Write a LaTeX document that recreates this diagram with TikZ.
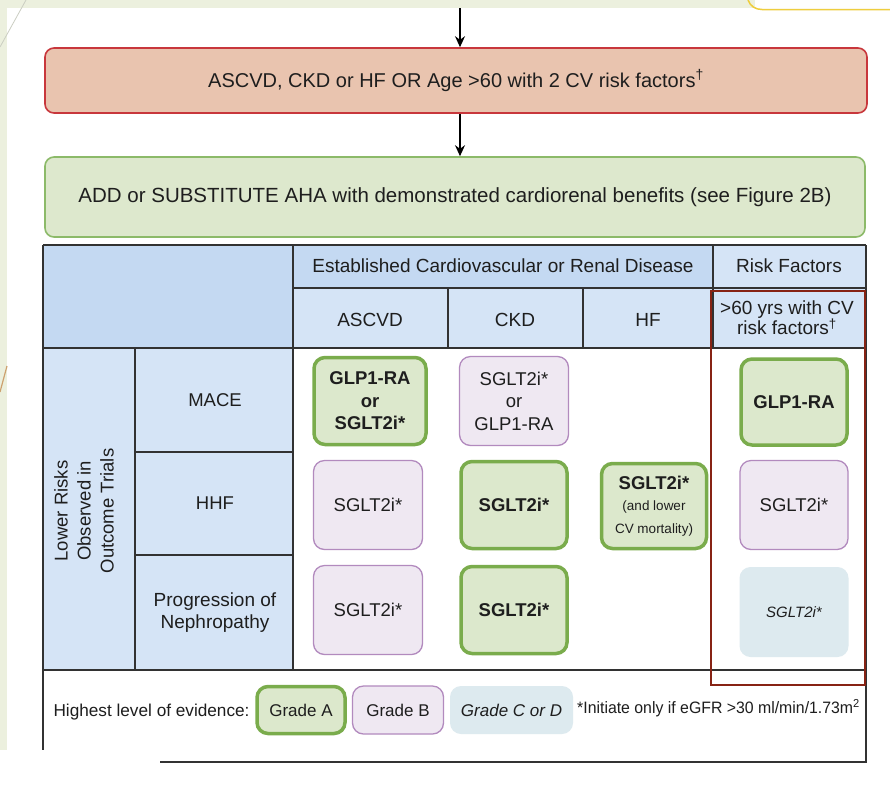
\documentclass[tikz,border=0pt]{standalone}
\usepackage{fontspec}
\setmainfont{Liberation Sans}
\usetikzlibrary{arrows.meta}
\definecolor{bgg}{RGB}{236,240,222}
\definecolor{redfill}{RGB}{233,196,175}
\definecolor{redline}{RGB}{200,55,60}
\definecolor{grnfill}{RGB}{221,232,205}
\definecolor{grnline}{RGB}{140,186,105}
\definecolor{afill}{RGB}{220,232,204}
\definecolor{aline}{RGB}{122,172,76}
\definecolor{bfill}{RGB}{239,232,242}
\definecolor{bline}{RGB}{178,138,190}
\definecolor{cfill}{RGB}{221,234,239}
\definecolor{hdark}{RGB}{196,217,242}
\definecolor{hlight}{RGB}{213,228,246}
\definecolor{tline}{RGB}{50,50,50}
\definecolor{frame}{RGB}{135,35,20}
\definecolor{yel}{RGB}{238,205,60}
\definecolor{txt}{RGB}{30,30,30}
\newcommand{\smallnote}{\fontsize{13.5}{19}\selectfont\mdseries}
\tikzset{
  topbox/.style={draw, rounded corners=9pt, line width=1.6pt, font=\fontsize{20.5}{24}\selectfont, text=txt},
  gradeA/.style={draw=aline, fill=afill, line width=3.5pt, rounded corners=11pt, align=center, font=\fontsize{18.5}{22.5}\selectfont\bfseries, text=txt},
  gradeB/.style={draw=bline, fill=bfill, line width=1.3pt, rounded corners=11pt, align=center, font=\fontsize{18.5}{22.5}\selectfont, text=txt},
  gradeC/.style={fill=cfill, rounded corners=11pt, align=center, font=\fontsize{15}{18}\selectfont\itshape, text=txt},
  lbl/.style={align=center, font=\fontsize{19}{22}\selectfont, text=txt},
  tl/.style={draw=tline, line width=1.3pt},
  arr/.style={-{Stealth[length=11pt,width=10pt]}, line width=1.5pt, draw=black}
}
\begin{document}
\begin{tikzpicture}[x=1pt,y=-1pt]
\useasboundingbox (0,0) rectangle (890,785);
% background
\fill[bgg] (0,0) rectangle (890,785);
\fill[white] (7,8) rectangle (890,785);
\fill[white] (0,750) rectangle (890,785);
\fill[white!95!bgg] (755,0) rectangle (890,9);
\draw[yel, line width=1.5pt] (748,0) to[out=-70,in=180] (762,9.5) -- (890,9.5);
\draw[bgg!70!gray, line width=0.8pt] (26,0) -- (0,47);
\draw[bgg!30!brown, line width=1.2pt] (7,366) -- (0,392);

% top flow
\coordinate (top) at (460,8);
\node[topbox, draw=redline, fill=redfill, minimum width=822pt, minimum height=65pt, font=\fontsize{20}{24}\selectfont] (risk) at (456,80.5)
  {ASCVD, CKD or HF OR Age >60 with 2 CV risk factors\textsuperscript{†}};
\node[topbox, draw=grnline, fill=grnfill, minimum width=820pt, minimum height=80pt] (add) at (455,197)
  {ADD or SUBSTITUTE AHA with demonstrated cardiorenal benefits (see Figure 2B)};
\draw[arr] (top) -- (risk.north -| top);
\draw[arr] (risk.south -| top) -- (add.north -| top);

% table fills
\fill[hdark] (43,245) rectangle (293,348);
\fill[hdark] (293,245) rectangle (713,288);
\fill[hlight] (713,245) rectangle (866,288);
\fill[hlight] (293,288) rectangle (866,348);
\fill[hlight] (43,348) rectangle (293,670);
% table lines
\draw[tl] (43,245) -- (866,245);
\draw[tl] (43,245) -- (43,750);
\draw[tl] (866,245) -- (866,762) -- (160,762);
\draw[tl] (43,670) -- (866,670);
\draw[tl] (43,348) -- (866,348);
\draw[tl] (293,288) -- (866,288);
\draw[tl] (293,245) -- (293,670);
\draw[tl] (713,245) -- (713,348);
\draw[tl] (448,288) -- (448,348);
\draw[tl] (583,288) -- (583,348);
\draw[tl] (135,348) -- (135,670);
\draw[tl] (135,452) -- (293,452);
\draw[tl] (135,555) -- (293,555);

% header texts
\node[lbl] (est) at (503,266) {Established Cardiovascular or Renal Disease};
\node[lbl] (rf) at (789,266) {Risk Factors};
\node[lbl] (h1) at (370,320) {ASCVD};
\node[lbl] (h2) at (515,320) {CKD};
\node[lbl] (h3) at (648,320) {HF};
\node[lbl, font=\fontsize{19}{20}\selectfont] (h4) at (787,318) {>60 yrs with CV\\risk factors\textsuperscript{†}};
\node[lbl, font=\fontsize{18.5}{22}\selectfont] (r1) at (215,400) {MACE};
\node[lbl, font=\fontsize{18.5}{22}\selectfont] (r2) at (215,503) {HHF};
\node[lbl] (r3) at (215,613) {Progression of\\Nephropathy};
\node[lbl, rotate=90, font=\fontsize{18.5}{23}\selectfont] (side) at (84,511) {Lower Risks\\Observed in\\Outcome Trials};

% cells
\node[gradeA, minimum width=112pt, minimum height=87pt] (c11) at (370,401) {GLP1-RA\\or\\SGLT2i*};
\node[gradeB, minimum width=109pt, minimum height=89pt] (c12) at (514,401) {SGLT2i*\\or\\GLP1-RA};
\node[gradeA, minimum width=106pt, minimum height=86pt] (c14) at (794,402) {GLP1-RA};
\node[gradeB, minimum width=109pt, minimum height=89pt] (c21) at (368,505) {SGLT2i*};
\node[gradeA, minimum width=106pt, minimum height=87pt] (c22) at (514,505) {SGLT2i*};
\node[gradeA, minimum width=105pt, minimum height=85pt] (c23) at (654,506) {SGLT2i*\\[-1pt]\smallnote (and lower\\\smallnote CV mortality)};
\node[gradeB, minimum width=108pt, minimum height=89pt] (c24) at (794,505) {SGLT2i*};
\node[gradeB, minimum width=109pt, minimum height=89pt] (c31) at (368,610) {SGLT2i*};
\node[gradeA, minimum width=106pt, minimum height=87pt] (c32) at (514,610) {SGLT2i*};
\node[gradeC, minimum width=109pt, minimum height=90pt] (c34) at (794,612) {SGLT2i*};

% red frame
\draw[frame, line width=2.4pt] (711,291) rectangle (865,685);

% legend
\node[lbl, anchor=west, font=\fontsize{17.2}{20}\selectfont] (leg) at (50,712) {Highest level of evidence:};
\node[gradeA, font=\fontsize{17}{20}\selectfont, minimum width=88pt, minimum height=47pt] (ga) at (301,710) {Grade A};
\node[gradeB, font=\fontsize{17}{20}\selectfont, minimum width=91pt, minimum height=48pt] (gb) at (398,710) {Grade B};
\node[gradeC, font=\fontsize{17}{20}\selectfont\itshape, minimum width=123pt, minimum height=48pt] (gc) at (511.5,710) {Grade C or D};
\node[anchor=west, text=txt, inner sep=0pt] (fn) at (577,708) {\scalebox{0.96}[1]{\fontsize{16.5}{18}\selectfont *Initiate only if eGFR >30 ml/min/1.73m\textsuperscript{2}}};
\end{tikzpicture}
\end{document}
